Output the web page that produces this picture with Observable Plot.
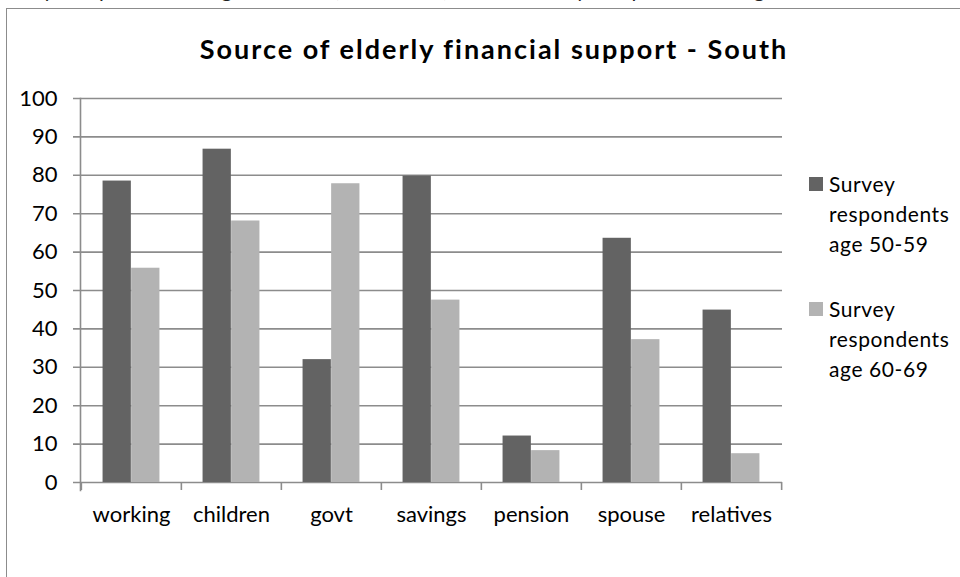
<!DOCTYPE html>
<html>
<head>
<meta charset="utf-8">
<script src="https://cdn.jsdelivr.net/npm/d3@7"></script>
<script src="https://cdn.jsdelivr.net/npm/@observablehq/plot@0.6"></script>
<style>
  html, body { margin: 0; padding: 0; background: #fff; }
  #wrap { position: relative; width: 960px; height: 577px; overflow: hidden; font-family: Lato, "Open Sans", sans-serif; color: #000; }
  #frame { position: absolute; left: 6px; top: 8px; width: 1000px; height: 600px; border-left: 1.5px solid #8c8c8c; border-top: 1.5px solid #8c8c8c; }
  #toptext { position: absolute; left: -14px; top: -23px; font-size: 21px; line-height: 24px; white-space: nowrap; color: #222; word-spacing: 5px; letter-spacing: 1.5px; }
  #title { position: absolute; left: 94px; width: 800px; top: 34px; text-align: center; font-weight: bold; font-size: 27px; line-height: 30px; letter-spacing: 2px; }
  .leg { position: absolute; left: 809px; font-size: 21px; line-height: 30px; letter-spacing: 0.6px; }
  .leg .sw { position: absolute; left: 0; top: 8px; width: 14px; height: 14px; }
  .leg .tx { margin-left: 20px; }
  #chart { position: absolute; left: 0; top: 0; }
</style>
</head>
<body>
<div id="wrap">
  <div id="toptext"></div>
  <div id="frame"></div>
  <div id="title"></div>
  <div id="chart"></div>
</div>
<script>
const titleText = "Source of elderly financial support - South";
const topText = "survey respondents age 50-59 (dark bars), and survey respondents age 60-69";
const categories = ["working", "children", "govt", "savings", "pension", "spouse", "relatives"];
const seriesNames = ["Survey respondents age 50-59", "Survey respondents age 60-69"];
const legendLines = [["Survey", "respondents", "age 50-59"], ["Survey", "respondents", "age 60-69"]];
const age5059 = [78.5, 86.8, 32.0, 79.8, 12.1, 63.6, 44.9];
const age6069 = [55.8, 68.1, 77.8, 47.5, 8.3, 37.2, 7.5];
const yTicks = [0, 10, 20, 30, 40, 50, 60, 70, 80, 90, 100];
const colors = ["#636363", "#b3b3b3"];

const rows = categories.map((c, i) => ({cat: c, v1: age5059[i], v2: age6069[i]}));

const W = 960, H = 577, mL = 80, mR = 178, mT = 98, mB = 95;
const bw = (W - mL - mR) / categories.length;
const barW = bw * 0.285;
const gapOuter = (bw - 2 * barW) / 2;
const gridColor = "#8c8c8c";

document.getElementById("toptext").textContent = topText;
document.getElementById("title").textContent = titleText;

const chart = Plot.plot({
  width: W, height: H,
  marginLeft: mL, marginRight: mR, marginTop: mT, marginBottom: mB,
  x: {domain: categories, padding: 0, axis: null, label: null},
  y: {domain: [0, 100], axis: null, label: null},
  style: {fontFamily: "Lato, 'Open Sans', sans-serif", fontSize: "22px", color: "#000", background: "transparent", overflow: "visible"},
  marks: [
    Plot.gridY(yTicks, {stroke: gridColor, strokeOpacity: 1, strokeWidth: 1.6, insetLeft: -7}),
    Plot.barY(rows, {x: "cat", y: "v1", fill: colors[0], insetLeft: gapOuter, insetRight: gapOuter + barW}),
    Plot.barY(rows, {x: "cat", y: "v2", fill: colors[1], insetLeft: gapOuter + barW, insetRight: gapOuter}),
    Plot.axisY(yTicks, {anchor: "left", tickSize: 0, tickPadding: 23, fill: "#000", fontSize: 22, label: null}),
    Plot.axisX(categories, {anchor: "bottom", tickSize: 0, tickPadding: 24, fill: "#000", fontSize: 22, label: null}),
    Plot.frame({anchor: "left", stroke: gridColor, strokeWidth: 1.6, insetBottom: -8}),
    Plot.ruleX(categories, {x: d => d, dx: -bw / 2, insetTop: H - mT - mB, insetBottom: -8, stroke: gridColor, strokeWidth: 1.6}),
    Plot.ruleX([categories[categories.length - 1]], {x: d => d, dx: bw / 2, insetTop: H - mT - mB, insetBottom: -8, stroke: gridColor, strokeWidth: 1.6})
  ]
});
document.getElementById("chart").appendChild(chart);

const wrap = document.getElementById("wrap");
const legTops = [169, 294];
seriesNames.forEach((name, i) => {
  const d = document.createElement("div");
  d.className = "leg";
  d.style.top = legTops[i] + "px";
  d.title = name;
  const sw = document.createElement("div");
  sw.className = "sw";
  sw.style.background = colors[i];
  d.appendChild(sw);
  legendLines[i].forEach(line => {
    const t = document.createElement("div");
    t.className = "tx";
    t.textContent = line;
    d.appendChild(t);
  });
  wrap.appendChild(d);
});
</script>
</body>
</html>
